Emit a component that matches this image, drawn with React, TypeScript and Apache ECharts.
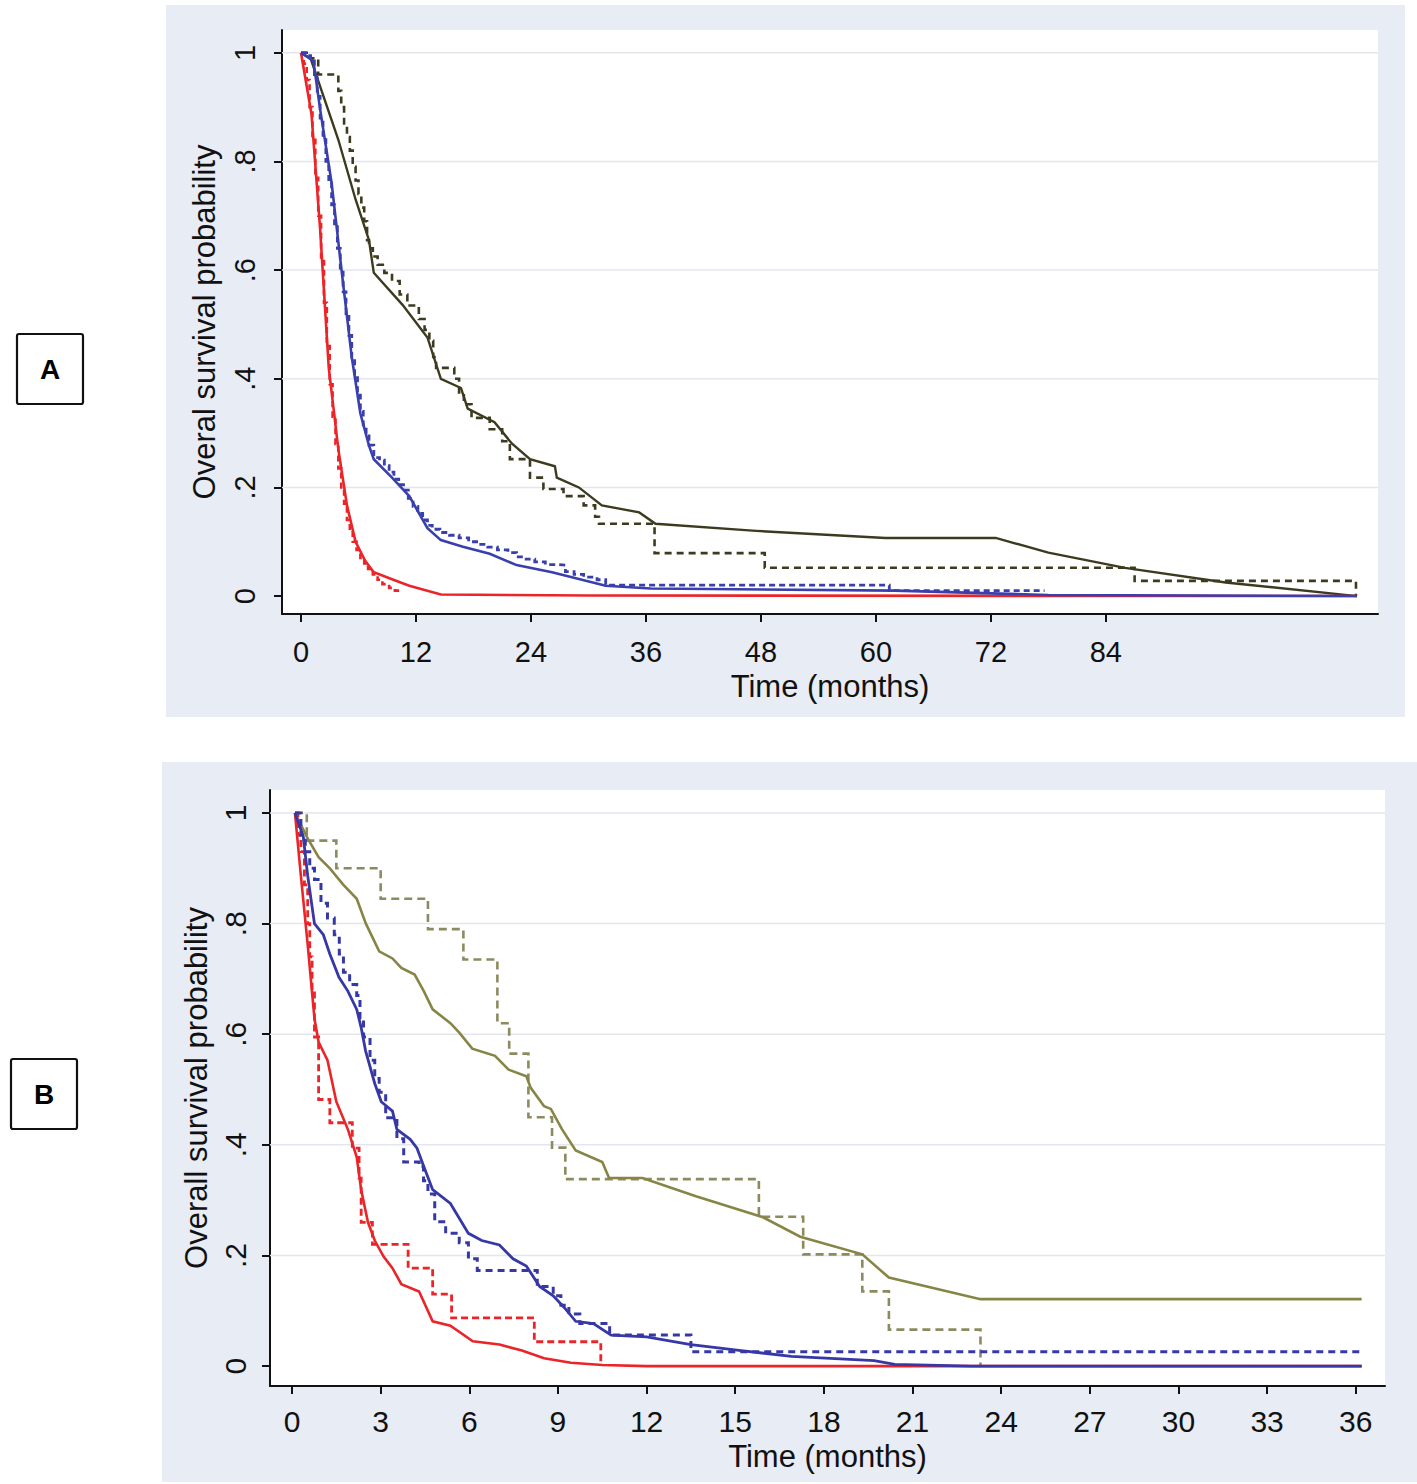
import React, { useEffect, useRef } from "react";
import * as echarts from "echarts";

// ---------- tick values / labels ----------
const aTicksX = [0, 12, 24, 36, 48, 60, 72, 84];
const bTicksX = [0, 3, 6, 9, 12, 15, 18, 21, 24, 27, 30, 33, 36];
const yTicks = [0, 0.2, 0.4, 0.6, 0.8, 1];
const yTickLabels = ["0", ".2", ".4", ".6", ".8", "1"];

// ---------- Panel A data: [time (months), survival] ----------
const aOliveSolid = [
  [0, 1], [1, 0.99], [3.9, 0.84], [5.7, 0.73], [7.1, 0.655], [7.6, 0.595], [10.6, 0.536],
  [13.2, 0.476], [14.6, 0.4], [16.7, 0.383], [17.4, 0.345], [20.2, 0.32], [22, 0.281],
  [23.9, 0.252], [26.5, 0.239], [26.7, 0.218], [29, 0.2], [31.4, 0.167], [35.3, 0.154],
  [37, 0.133], [47.5, 0.12], [61, 0.107], [72.5, 0.107], [78, 0.08], [86, 0.052],
  [96.5, 0.025], [110.2, 0],
];
const aOliveDashed = [
  [0, 1], [1, 0.99], [1.8, 0.96], [3.9, 0.93], [4.2, 0.9], [4.5, 0.87], [4.8, 0.845],
  [5.1, 0.82], [5.4, 0.79], [5.7, 0.765], [6, 0.74], [6.3, 0.715], [6.6, 0.69], [6.9, 0.655],
  [7.1, 0.64], [7.5, 0.625], [8, 0.61], [8.7, 0.595], [9.5, 0.58], [10.3, 0.555], [11.1, 0.535],
  [12.3, 0.51], [12.9, 0.49], [13.4, 0.47], [13.8, 0.44], [14.1, 0.42], [16, 0.4], [16.5, 0.375],
  [17, 0.353], [17.8, 0.328], [19.7, 0.307], [21, 0.285], [21.8, 0.252], [23.9, 0.218],
  [25.3, 0.197], [27.4, 0.184], [29.5, 0.167], [30.7, 0.146], [31.1, 0.133], [36.9, 0.079],
  [48.4, 0.052], [87, 0.028], [110.1, 0],
];
const aBlueSolid = [
  [0, 1], [1.3, 0.985], [2, 0.896], [3.2, 0.76], [4.3, 0.59], [5.3, 0.44], [6.2, 0.336],
  [7.1, 0.277], [7.6, 0.252], [9.5, 0.218], [11.3, 0.184], [13.2, 0.125], [14.6, 0.103],
  [16.9, 0.091], [19.7, 0.078], [22.5, 0.057], [26.2, 0.044], [31.8, 0.019], [36.5, 0.014],
  [62, 0.01], [78, 0.002], [110.2, 0],
];
const aBlueDashed = [
  [0, 1], [0.5, 0.995], [1, 0.985], [1.4, 0.96], [1.7, 0.92], [2, 0.88], [2.3, 0.84],
  [2.6, 0.8], [2.9, 0.76], [3.2, 0.72], [3.5, 0.68], [3.8, 0.64], [4.1, 0.6], [4.4, 0.56],
  [4.7, 0.52], [5, 0.48], [5.3, 0.44], [5.6, 0.405], [5.9, 0.37], [6.2, 0.34], [6.5, 0.315],
  [6.8, 0.295], [7.1, 0.278], [7.6, 0.255], [8.2, 0.25], [8.7, 0.24], [9.2, 0.228],
  [9.7, 0.215], [10.2, 0.205], [10.7, 0.195], [11.2, 0.18], [11.7, 0.165], [12.2, 0.152],
  [12.7, 0.14], [13.2, 0.13], [13.7, 0.123], [14.5, 0.117], [15.5, 0.112], [16.5, 0.107],
  [17.5, 0.1], [18.5, 0.095], [19.5, 0.09], [20.5, 0.085], [21.6, 0.08], [22.5, 0.072],
  [23.5, 0.068], [24.4, 0.063], [25.5, 0.058], [26.7, 0.057], [27.6, 0.045], [28.5, 0.04],
  [29.5, 0.035], [30.9, 0.03], [31.8, 0.02], [61.4, 0.01], [77.6, 0.01],
];
const aRedSolid = [
  [0, 1], [1.1, 0.887], [2, 0.675], [2.9, 0.42], [3.9, 0.27], [4.8, 0.167], [5.7, 0.1],
  [6.7, 0.065], [7.6, 0.044], [9.5, 0.031], [11.3, 0.019], [14.6, 0.003], [30, 0.001],
  [110.2, 0],
];
const aRedDashed = [
  [0, 1], [0.3, 0.98], [0.6, 0.95], [0.9, 0.9], [1.2, 0.84], [1.5, 0.77], [1.8, 0.7],
  [2.1, 0.62], [2.4, 0.54], [2.7, 0.46], [3, 0.39], [3.3, 0.33], [3.6, 0.28], [3.9, 0.235],
  [4.2, 0.2], [4.5, 0.17], [4.8, 0.14], [5.1, 0.12], [5.4, 0.1], [5.8, 0.085], [6.2, 0.07],
  [6.6, 0.06], [7, 0.05], [7.5, 0.04], [8, 0.03], [8.5, 0.022], [9.2, 0.015], [9.8, 0.01],
  [10.4, 0.005],
];

// ---------- Panel B data ----------
const bOliveSolid = [
  [0.1, 1], [0.53, 0.954], [0.9, 0.92], [1.28, 0.9], [1.74, 0.87], [2.19, 0.845], [2.5, 0.8],
  [2.95, 0.75], [3.4, 0.737], [3.7, 0.72], [4.15, 0.708], [4.46, 0.678], [4.76, 0.645],
  [5.36, 0.62], [5.66, 0.603], [6.1, 0.574], [6.87, 0.561], [7.33, 0.536], [7.93, 0.524],
  [8.08, 0.503], [8.53, 0.47], [8.76, 0.465], [9.14, 0.428], [9.6, 0.39], [10.5, 0.369],
  [10.73, 0.34], [11.86, 0.34], [13.67, 0.307], [15.94, 0.269], [17.2, 0.234], [19.3, 0.202],
  [20.2, 0.16], [23.3, 0.121], [36.2, 0.121],
];
const bOliveDashed = [
  [0.1, 1], [0.5, 0.95], [1.5, 0.9], [3.0, 0.845], [4.6, 0.79], [5.8, 0.735], [6.95, 0.62],
  [7.35, 0.565], [8.0, 0.45], [8.8, 0.395], [9.25, 0.338], [15.8, 0.27], [17.3, 0.202],
  [19.3, 0.135], [20.2, 0.066], [23.3, 0],
];
const bBlueSolid = [
  [0.1, 1], [0.38, 0.958], [0.53, 0.887], [0.76, 0.8], [1.06, 0.78], [1.28, 0.745],
  [1.59, 0.703], [1.89, 0.678], [2.19, 0.645], [2.34, 0.612], [2.49, 0.57], [2.8, 0.511],
  [3.02, 0.478], [3.4, 0.461], [3.55, 0.428], [4.0, 0.41], [4.23, 0.394], [4.46, 0.361],
  [4.76, 0.319], [5.36, 0.294], [5.97, 0.24], [6.42, 0.227], [7.02, 0.219], [7.48, 0.194],
  [7.93, 0.181], [8.38, 0.144], [8.84, 0.127], [9.21, 0.106], [9.6, 0.081], [10.2, 0.077],
  [10.8, 0.056], [12, 0.053], [13.5, 0.039], [15.2, 0.028], [16.9, 0.0175], [19.7, 0.01],
  [20.4, 0.003], [23, 0], [36.2, 0],
];
const bBlueDashed = [
  [0.1, 1], [0.3, 0.96], [0.45, 0.93], [0.6, 0.9], [0.76, 0.88], [0.98, 0.837], [1.2, 0.81],
  [1.43, 0.78], [1.6, 0.745], [1.74, 0.712], [1.95, 0.69], [2.19, 0.67], [2.3, 0.63],
  [2.42, 0.595], [2.64, 0.553], [2.8, 0.52], [2.95, 0.495], [3.17, 0.449], [3.55, 0.411],
  [3.78, 0.369], [4.3, 0.361], [4.45, 0.335], [4.6, 0.311], [4.83, 0.261], [5.2, 0.24],
  [5.66, 0.223], [5.97, 0.194], [6.27, 0.173], [8.3, 0.144], [8.84, 0.127], [9.1, 0.11],
  [9.37, 0.094], [9.74, 0.077], [10.75, 0.056], [13.5, 0.026], [36.2, 0.026],
];
const bRedSolid = [
  [0.1, 1], [0.3, 0.887], [0.53, 0.762], [0.76, 0.628], [0.9, 0.586], [1.2, 0.553],
  [1.5, 0.478], [1.89, 0.428], [2.19, 0.378], [2.34, 0.319], [2.57, 0.26], [2.8, 0.227],
  [3.1, 0.198], [3.4, 0.177], [3.7, 0.148], [4.3, 0.135], [4.76, 0.081], [5.36, 0.073],
  [6.12, 0.045], [7.02, 0.039], [7.78, 0.028], [8.53, 0.014], [9.44, 0.006], [10.5, 0.002],
  [12, 0], [36.2, 0],
];
const bRedDashed = [
  [0.1, 1], [0.2, 0.96], [0.3, 0.93], [0.42, 0.87], [0.53, 0.8], [0.6, 0.74], [0.68, 0.678],
  [0.76, 0.595], [0.9, 0.482], [1.28, 0.44], [2.04, 0.394], [2.27, 0.34], [2.34, 0.26],
  [2.72, 0.22], [3.93, 0.177], [4.76, 0.13], [5.4, 0.087], [8.2, 0.044], [10.45, 0],
];

const FONT = "'Liberation Sans', Arial, Helvetica, sans-serif";

// layout (pixels)
const GA = { left: 282, top: 30, right: 1378, bottom: 614, xMin: -1.98, xMax: 112.4, yMin: -0.033, yMax: 1.042 };
const GB = { left: 270, top: 790, right: 1385, bottom: 1386, xMin: -0.745, xMax: 36.99, yMin: -0.036, yMax: 1.0416 };

function curve(data: number[][], idx: number, color: string, width: number, dashed: boolean, dash: number[], z: number) {
  return {
    type: "line",
    xAxisIndex: idx,
    yAxisIndex: idx,
    data,
    symbol: "none",
    showSymbol: false,
    silent: true,
    step: dashed ? "end" : false,
    z,
    lineStyle: { color, width, type: dashed ? dash : "solid", cap: "butt", join: "miter" },
  };
}

function gridLines(idx: number, g: typeof GA) {
  return yTicks
    .filter((v) => v > 0)
    .map((v) => ({
      type: "line",
      xAxisIndex: idx,
      yAxisIndex: idx,
      data: [[g.xMin, v], [g.xMax, v]],
      symbol: "none",
      silent: true,
      z: 1,
      lineStyle: { color: "#e3e6ee", width: 1.5 },
    }));
}

function xAxisCfg(idx: number, g: typeof GA, ticks: number[], fs: number, margin: number, nameGap: number) {
  return {
    type: "value",
    gridIndex: idx,
    min: g.xMin,
    max: g.xMax,
    axisLine: { show: true, onZero: false, lineStyle: { color: "#111", width: 2 } },
    axisTick: { show: true, length: 8, customValues: ticks, lineStyle: { color: "#111", width: 2 } },
    axisLabel: { customValues: ticks, fontSize: fs, color: "#111", margin, fontFamily: FONT },
    splitLine: { show: false },
    name: "Time (months)",
    nameLocation: "middle",
    nameGap,
    nameTextStyle: { fontSize: 31, color: "#111", fontFamily: FONT },
  };
}

function yAxisCfg(idx: number, g: typeof GA, name: string, fs: number, margin: number, nameGap: number) {
  return {
    type: "value",
    gridIndex: idx,
    min: g.yMin,
    max: g.yMax,
    axisLine: { show: true, onZero: false, lineStyle: { color: "#111", width: 2 } },
    axisTick: { show: true, length: 8, customValues: yTicks, lineStyle: { color: "#111", width: 2 } },
    axisLabel: {
      customValues: yTicks,
      rotate: 90,
      fontSize: fs,
      color: "#111",
      margin,
      fontFamily: FONT,
      formatter: (v: number) => {
        const i = yTicks.findIndex((t) => Math.abs(t - v) < 1e-6);
        return i >= 0 ? yTickLabels[i] : "";
      },
    },
    splitLine: { show: false },
    name,
    nameLocation: "middle",
    nameGap,
    nameRotate: 90,
    nameTextStyle: { fontSize: 31, color: "#111", fontFamily: FONT },
  };
}

export default function App() {
  const ref = useRef<HTMLDivElement>(null);
  useEffect(() => {
    if (!ref.current) return;
    const chart = echarts.init(ref.current, undefined, { renderer: "svg", width: 1417, height: 1484 });

    const aOlive = "#3d3b1f";
    const aBlue = "#3a3fae";
    const aRed = "#ec2428";
    const bOliveS = "#878545";
    const bOliveD = "#8c8b60";
    const bBlue = "#3638a6";
    const bRed = "#ea2428";

    const option: any = {
      animation: false,
      backgroundColor: "#ffffff",
      textStyle: { fontFamily: FONT },
      grid: [
        { left: GA.left, top: GA.top, width: GA.right - GA.left, height: GA.bottom - GA.top, show: true, backgroundColor: "#ffffff", borderWidth: 0 },
        { left: GB.left, top: GB.top, width: GB.right - GB.left, height: GB.bottom - GB.top, show: true, backgroundColor: "#ffffff", borderWidth: 0 },
      ],
      xAxis: [
        xAxisCfg(0, GA, aTicksX, 29, 23, 57),
        xAxisCfg(1, GB, bTicksX, 30, 20, 55),
      ],
      yAxis: [
        yAxisCfg(0, GA, "Overal survival probability", 29, 23, 62),
        yAxisCfg(1, GB, "Overall survival probability", 30, 20, 47),
      ],
      graphic: [
        { type: "rect", z: -10, shape: { x: 166, y: 5, width: 1405 - 166, height: 717 - 5 }, style: { fill: "#e8ecf4" }, silent: true },
        { type: "rect", z: -10, shape: { x: 162, y: 762, width: 1417 - 162, height: 1482 - 762 }, style: { fill: "#e8ecf4" }, silent: true },
        { type: "rect", z: 5, shape: { x: 17, y: 334, width: 66, height: 70, r: 2 }, style: { fill: "#ffffff", stroke: "#111", lineWidth: 2.2 } },
        { type: "text", z: 6, x: 50, y: 369, style: { text: "A", fontSize: 28, fontWeight: "bold", fontFamily: FONT, fill: "#000", align: "center", verticalAlign: "middle" } },
        { type: "rect", z: 5, shape: { x: 11, y: 1059, width: 66, height: 70, r: 2 }, style: { fill: "#ffffff", stroke: "#111", lineWidth: 2.2 } },
        { type: "text", z: 6, x: 44, y: 1094, style: { text: "B", fontSize: 28, fontWeight: "bold", fontFamily: FONT, fill: "#000", align: "center", verticalAlign: "middle" } },
      ],
      series: [
        ...gridLines(0, GA),
        ...gridLines(1, GB),
        curve(aOliveDashed, 0, aOlive, 2.6, true, [7, 5], 2),
        curve(aOliveSolid, 0, aOlive, 2.4, false, [], 3),
        curve(aRedDashed, 0, aRed, 2.6, true, [6, 4], 4),
        curve(aRedSolid, 0, aRed, 2.6, false, [], 5),
        curve(aBlueDashed, 0, aBlue, 2.8, true, [6, 4], 6),
        curve(aBlueSolid, 0, aBlue, 2.6, false, [], 7),
        curve(bOliveDashed, 1, bOliveD, 2.6, true, [8, 5], 2),
        curve(bOliveSolid, 1, bOliveS, 2.6, false, [], 3),
        curve(bRedDashed, 1, bRed, 2.8, true, [7, 4], 4),
        curve(bRedSolid, 1, bRed, 2.6, false, [], 5),
        curve(bBlueDashed, 1, bBlue, 3, true, [7, 5], 6),
        curve(bBlueSolid, 1, bBlue, 2.8, false, [], 7),
      ],
    };
    chart.setOption(option);
    return () => chart.dispose();
  }, []);
  return (
    <div
      ref={ref}
      style={{ position: "absolute", left: 0, top: 0, width: 1417, height: 1484 }}
    />
  );
}
